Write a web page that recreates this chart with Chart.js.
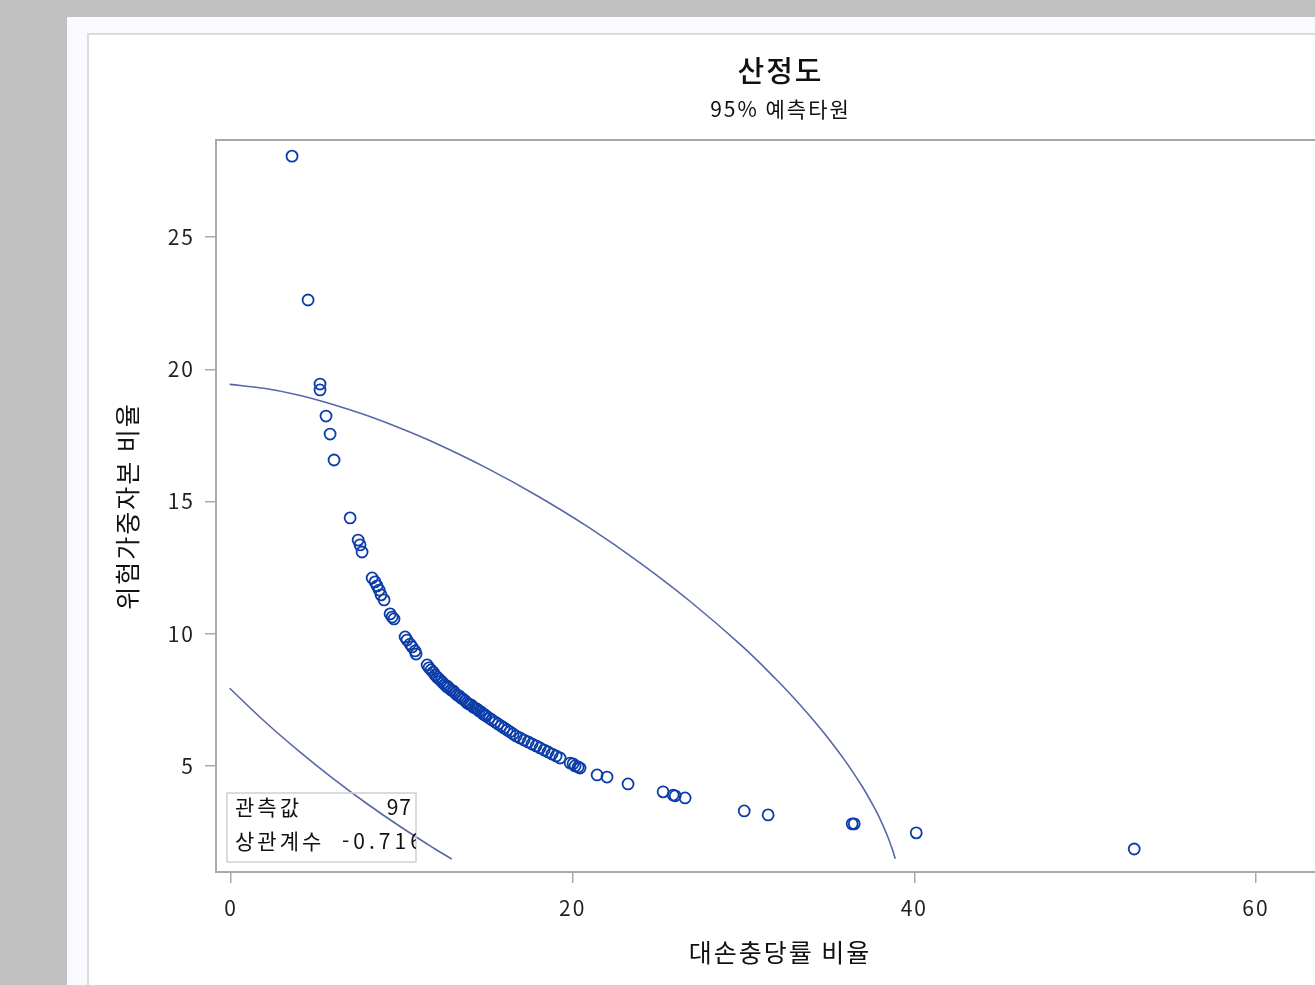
<!DOCTYPE html>
<html lang="ko">
<head>
<meta charset="utf-8">
<script src="https://cdn.jsdelivr.net/npm/chart.js@4.4.1/dist/chart.umd.min.js"></script>
<style>
  html, body { margin:0; padding:0; overflow:hidden; background:#c0c0c0; width:1315px; height:985px; }
  #panel { position:absolute; left:67px; top:17px; width:1500px; height:1100px; background:#f8faff; }
  #frame { position:absolute; left:87px; top:33px; width:1450px; height:1100px; background:#ffffff;
           border-left:2px solid #dcdcdc; border-top:2px solid #dcdcdc; }
  #c { position:absolute; left:89px; top:35px; }
</style>
</head>
<body>
<div id="panel"></div>
<div id="frame"></div>
<canvas id="c" width="1383" height="950" style="width:1383px;height:950px"></canvas>
<script>
// ---- Data ----
const titleText = "산정도";
const subtitleText = "95% 예측타원";
const xAxisTitle = "대손충당률 비율";
const yAxisTitle = "위험가중자본 비율";

const xTickValues = [0, 20, 40, 60];
const yTickValues = [5, 10, 15, 20, 25];

// observations (대손충당률 비율, 위험가중자본 비율)
const obsX = [
  3.57, 4.51, 5.21, 5.21, 5.56, 5.80, 6.03, 6.97, 7.44, 7.55, 7.67,
  8.26, 8.43, 8.55, 8.67, 8.78, 8.96, 9.31, 9.43, 9.54,
  10.19, 10.30, 10.48, 10.60, 10.77, 10.83,
  11.48, 11.59, 11.71, 11.83, 11.94, 12.06, 12.18, 12.30, 12.41, 12.53,
  12.65, 12.65, 12.76, 12.88, 13.00, 13.11, 13.23, 13.35, 13.47, 13.58,
  13.70, 13.82, 13.93, 14.05, 14.17, 14.29, 14.40, 14.52, 14.64, 14.75,
  14.87, 14.93, 15.11, 15.28, 15.46, 15.63, 15.81, 15.98, 16.16, 16.33,
  16.51, 16.69, 16.92, 17.15, 17.39, 17.62, 17.86, 18.09, 18.33, 18.56,
  18.79, 19.03, 19.26, 19.85, 20.02, 20.14, 20.32, 20.43,
  21.43, 22.01, 23.24, 25.29, 25.88, 26.00, 26.58, 30.04, 31.44,
  36.36, 36.48, 40.11, 52.87
];
const obsY = [
  28.06, 22.62, 19.44, 19.22, 18.23, 17.55, 16.57, 14.38, 13.54, 13.36, 13.09,
  12.11, 11.96, 11.81, 11.65, 11.47, 11.28, 10.75, 10.63, 10.56,
  9.88, 9.76, 9.61, 9.50, 9.35, 9.23,
  8.82, 8.71, 8.63, 8.55, 8.44, 8.36, 8.29, 8.21, 8.14, 8.06,
  8.02, 7.99, 7.95, 7.87, 7.84, 7.76, 7.68, 7.65, 7.57, 7.53,
  7.46, 7.38, 7.34, 7.31, 7.23, 7.19, 7.15, 7.08, 7.04, 6.97,
  6.93, 6.89, 6.81, 6.74, 6.66, 6.59, 6.51, 6.44, 6.36, 6.29,
  6.21, 6.13, 6.06, 5.98, 5.91, 5.83, 5.76, 5.68, 5.60, 5.53,
  5.45, 5.38, 5.30, 5.11, 5.08, 5.00, 4.96, 4.92,
  4.66, 4.58, 4.32, 4.02, 3.90, 3.87, 3.79, 3.30, 3.15,
  2.81, 2.81, 2.47, 1.86
];

// 95% prediction ellipse arcs (clipped by the data area)
const outerArcX = [-0.08, 1.92, 3.92, 5.92, 7.92, 9.92, 11.92, 14.92, 17.92, 20.92, 23.92, 26.92, 29.92, 31.92, 32.92, 33.92, 34.92, 35.92, 36.92, 37.42, 37.92, 38.42, 38.72, 38.88];
const outerArcY = [19.43, 19.28, 19.03, 18.68, 18.26, 17.77, 17.22, 16.28, 15.22, 14.03, 12.69, 11.20, 9.53, 8.27, 7.59, 6.86, 6.08, 5.22, 4.25, 3.70, 3.09, 2.36, 1.83, 1.49];
const innerArcX = [-0.08, 1.92, 3.92, 5.92, 7.92, 9.92, 11.92, 12.92];
const innerArcY = [7.94, 6.71, 5.59, 4.55, 3.59, 2.70, 1.87, 1.48];

const statLabels = ["관측값", "상관계수"];
const statValues = ["97", "-0.716"];

// ---- build chart ----
const FONT = "'Noto Sans CJK KR', 'Noto Sans', sans-serif";
const markerColor = '#0b3ca8';
const ellipseColor = '#5767a8';
const frameColor = '#a6aaae';

const pts = obsX.map((x, i) => ({ x: x, y: obsY[i] }));
const outer = outerArcX.map((x, i) => ({ x: x, y: outerArcY[i] }));
const inner = innerArcX.map((x, i) => ({ x: x, y: innerArcY[i] }));

const spacingPlugin = {
  id: 'letterSpacing',
  beforeDraw(chart) { if ('letterSpacing' in chart.ctx) chart.ctx.letterSpacing = '2px'; }
};

const framePlugin = {
  id: 'frameAndInset',
  afterDraw(chart) {
    const { ctx, chartArea: a } = chart;
    ctx.save();
    ctx.strokeStyle = frameColor;
    ctx.lineWidth = 2;
    ctx.strokeRect(a.left, a.top, a.right - a.left, a.bottom - a.top);

    // inset statistics box
    const bx = a.left + 11, by = a.top + 653, bw = 189, bh = 69;
    ctx.strokeStyle = '#d0d0d0';
    ctx.lineWidth = 1.5;
    ctx.strokeRect(bx, by, bw, bh);
    ctx.beginPath();
    ctx.rect(bx, by, bw, bh);
    ctx.clip();
    ctx.fillStyle = '#111';
    ctx.font = '21px ' + FONT;
    ctx.textBaseline = 'middle';
    ctx.textAlign = 'left';
    if ('letterSpacing' in ctx) ctx.letterSpacing = '3px';
    ctx.fillText(statLabels[0], bx + 8, by + 14);
    ctx.fillText(statLabels[1], bx + 8, by + 48);
    ctx.textAlign = 'right';
    if ('letterSpacing' in ctx) ctx.letterSpacing = '1px';
    ctx.fillText(statValues[0], bx + 185, by + 14);
    ctx.textAlign = 'left';
    if ('letterSpacing' in ctx) ctx.letterSpacing = '4px';
    ctx.fillText(statValues[1], bx + 115, by + 48);
    ctx.restore();
    if ('letterSpacing' in ctx) ctx.letterSpacing = '0px';
  }
};

new Chart(document.getElementById('c'), {
  type: 'scatter',
  data: {
    datasets: [
      {
        label: '관측값',
        data: pts,
        order: 0,
        pointStyle: 'circle',
        pointRadius: 5.5,
        pointHoverRadius: 5.5,
        borderWidth: 1.8,
        borderColor: markerColor,
        backgroundColor: 'rgba(0,0,0,0)'
      },
      {
        label: '95% 예측타원',
        data: outer,
        order: 1,
        showLine: true,
        tension: 0.4,
        pointRadius: 0,
        borderWidth: 1.6,
        borderColor: ellipseColor,
        backgroundColor: ellipseColor
      },
      {
        label: '95% 예측타원 (inner)',
        data: inner,
        order: 1,
        showLine: true,
        tension: 0.4,
        pointRadius: 0,
        borderWidth: 1.6,
        borderColor: ellipseColor,
        backgroundColor: ellipseColor
      }
    ]
  },
  options: {
    responsive: false,
    animation: false,
    devicePixelRatio: 1,
    layout: { padding: { left: 0, right: 0, top: 0, bottom: 0 } },
    plugins: {
      legend: { display: false },
      tooltip: { enabled: false },
      title: {
        display: true, text: titleText, color: '#111',
        font: { family: FONT, size: 29, weight: '500', lineHeight: 1.2 },
        padding: { top: 19, bottom: 0 }
      },
      subtitle: {
        display: true, text: subtitleText, color: '#111',
        font: { family: FONT, size: 21, weight: 'normal', lineHeight: 1.2 },
        padding: { top: 8, bottom: 18 }
      }
    },
    scales: {
      x: {
        type: 'linear', min: -0.88, max: 65.15,
        afterFit(s) { s.height = 113; },
        afterBuildTicks(s) { s.ticks = xTickValues.map(v => ({ value: v })); },
        grid: { display: true, drawOnChartArea: false, drawTicks: true, tickLength: 11, color: frameColor, lineWidth: 1.5 },
        border: { display: false },
        ticks: { color: '#222', font: { family: FONT, size: 21 }, padding: 12, maxRotation: 0, autoSkip: false },
        title: { display: true, text: xAxisTitle, color: '#111', font: { family: FONT, size: 25, lineHeight: 1.2 }, padding: { top: 0, bottom: 18 } }
      },
      y: {
        type: 'linear', min: 0.99, max: 28.67,
        afterFit(s) { s.width = 127; },
        afterBuildTicks(s) { s.ticks = yTickValues.map(v => ({ value: v })); },
        grid: { display: true, drawOnChartArea: false, drawTicks: true, tickLength: 11, color: frameColor, lineWidth: 1.5 },
        border: { display: false },
        ticks: { color: '#222', font: { family: FONT, size: 21 }, padding: 10, autoSkip: false },
        title: { display: true, text: yAxisTitle, color: '#111', font: { family: FONT, size: 25, lineHeight: 1.2 }, padding: { top: 23, bottom: 0 } }
      },
      yRight: {
        type: 'linear', position: 'right', display: true,
        afterFit(s) { s.width = 128; },
        grid: { display: false },
        border: { display: false },
        ticks: { display: false }
      }
    }
  },
  plugins: [spacingPlugin, framePlugin]
});
</script>
</body>
</html>
